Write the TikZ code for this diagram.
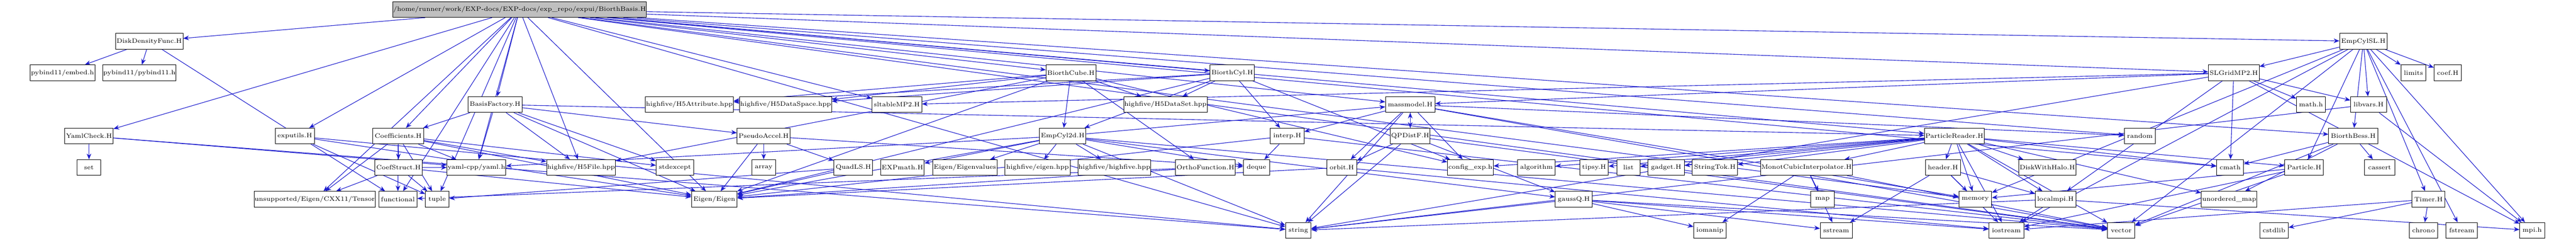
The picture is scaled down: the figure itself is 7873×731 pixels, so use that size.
\documentclass[tikz,border=0pt]{standalone}
\usepackage{tikz}
\usetikzlibrary{arrows.meta,backgrounds}
\definecolor{edgeblue}{RGB}{28,28,205}
\begin{document}
\begin{tikzpicture}[x=0.01cm,y=-0.01cm,-{Stealth[length=5pt,width=4pt]},
                    every edge/.style={draw=edgeblue,line width=0.5pt}]
  \tikzstyle{file}=[rectangle,draw=black,-,fill=white,minimum height=0.48cm,inner sep=0.5pt,
                    font=\fontsize{5.5}{6}\selectfont]
  \tikzstyle{root file}=[file,fill=black!25]
  \useasboundingbox (0,0) rectangle (7873,731);

  % top of the graph
  \node[root file,minimum width=6.82cm] (root)      at (1588,29)  {/home/runner/work/EXP-docs/EXP-docs/exp\_repo/expui/BiorthBasis.H};
  \node[file,minimum width=2.06cm] (ddf)            at (456,126)  {DiskDensityFunc.H};
  \node[file,minimum width=1.45cm] (empcylsl)       at (7223,126) {EmpCylSL.H};

  \node[file,minimum width=1.99cm] (embed)          at (191,222)  {pybind11/embed.h};
  \node[file,minimum width=2.24cm] (pyb)            at (426,222)  {pybind11/pybind11.h};
  \node[file,minimum width=1.52cm] (biorthcube)     at (3273,222) {BiorthCube.H};
  \node[file,minimum width=1.35cm] (biorthcyl)      at (3766,222) {BiorthCyl.H};
  \node[file,minimum width=1.55cm] (slgrid)         at (6827,222) {SLGridMP2.H};
  \node[file,minimum width=0.76cm] (limits)         at (7376,222) {limits};
  \node[file,minimum width=0.84cm] (coefh)          at (7481,222) {coef.H};

  \node[file,minimum width=1.65cm] (basisfactory)   at (1513,319) {BasisFactory.H};
  \node[file,minimum width=2.61cm] (h5attr)         at (2107,319) {highfive/H5Attribute.hpp};
  \node[file,minimum width=2.76cm] (h5space)        at (2401,319) {highfive/H5DataSpace.hpp};
  \node[file,minimum width=1.52cm] (sltable)        at (2741,319) {sltableMP2.H};
  \node[file,minimum width=2.51cm] (h5set)          at (3562,319) {highfive/H5DataSet.hpp};
  \node[file,minimum width=1.51cm] (massmodel)      at (4310,319) {massmodel.H};
  \node[file,minimum width=0.89cm] (mathh)          at (7063,319) {math.h};
  \node[file,minimum width=1.10cm] (libvars)        at (7239,319) {libvars.H};

  \node[file,minimum width=1.48cm] (yamlcheck)      at (272,415)  {YamlCheck.H};
  \node[file,minimum width=1.20cm] (exputils)       at (901,415)  {exputils.H};
  \node[file,minimum width=1.56cm] (coeffs)         at (1217,415) {Coefficients.H};
  \node[file,minimum width=1.62cm] (pseudo)         at (2334,415) {PseudoAccel.H};
  \node[file,minimum width=1.42cm] (empcyl2d)       at (3248,415) {EmpCyl2d.H};
  \node[file,minimum width=1.03cm] (interp)         at (3934,415) {interp.H};
  \node[file,minimum width=1.21cm] (qpdistf)        at (4310,415) {QPDistF.H};
  \node[file,minimum width=1.82cm] (preader)        at (5973,415) {ParticleReader.H};
  \node[file,minimum width=0.94cm] (random)         at (6540,415) {random};
  \node[file,minimum width=1.50cm] (bess)           at (7192,415) {BiorthBess.H};

  \node[file,minimum width=0.72cm] (set)            at (272,511)  {set};
  \node[file,minimum width=1.46cm] (coefstruct)     at (1218,511) {CoefStruct.H};
  \node[file,minimum width=1.80cm] (yaml)           at (1456,511) {yaml-cpp/yaml.h};
  \node[file,minimum width=2.10cm] (h5file)         at (1776,511) {highfive/H5File.hpp};
  \node[file,minimum width=1.15cm] (stdexcept)      at (2063,511) {stdexcept};
  \node[file,minimum width=0.73cm] (array)          at (2334,511) {array};
  \node[file,minimum width=1.18cm] (quadls)         at (2608,511) {QuadLS.H};
  \node[file,minimum width=1.33cm] (expmath)        at (2758,511) {EXPmath.H};
  \node[file,minimum width=1.98cm] (eigenvalues)    at (2949,511) {Eigen/Eigenvalues};
  \node[file,minimum width=1.99cm] (eigenhpp)       at (3171,511) {highfive/eigen.hpp};
  \node[file,minimum width=2.22cm] (highfive)       at (3406,511) {highfive/highfive.hpp};
  \node[file,minimum width=1.82cm] (ortho)          at (3684,511) {OrthoFunction.H};
  \node[file,minimum width=0.80cm] (deque)          at (3840,511) {deque};
  \node[file,minimum width=0.90cm] (orbit)          at (4101,511) {orbit.H};
  \node[file,minimum width=1.40cm] (config)         at (4494,511) {config\_exp.h};
  \node[file,minimum width=1.15cm] (algorithm)      at (4696,511) {algorithm};
  \node[file,minimum width=0.87cm] (tipsy)          at (4872,511) {tipsy.H};
  \node[file,minimum width=0.72cm] (list)           at (4977,511) {list};
  \node[file,minimum width=1.11cm] (gadget)         at (5092,511) {gadget.H};
  \node[file,minimum width=1.38cm] (stringtok)      at (5241,511) {StringTok.H};
  \node[file,minimum width=2.72cm] (monot)          at (5521,511) {MonotCubicInterpolator.H};
  \node[file,minimum width=1.07cm] (header)         at (5938,511) {header.H};
  \node[file,minimum width=1.74cm] (diskhalo)       at (6257,511) {DiskWithHalo.H};
  \node[file,minimum width=0.82cm] (cmath)          at (6816,511) {cmath};
  \node[file,minimum width=1.18cm] (particle)       at (7042,511) {Particle.H};
  \node[file,minimum width=0.92cm] (cassert)        at (7273,511) {cassert};

  \node[file,minimum width=3.44cm] (tensor)         at (962,608)  {unsupported/Eigen/CXX11/Tensor};
  \node[file,minimum width=1.17cm] (functional)     at (1216,608) {functional};
  \node[file,minimum width=0.72cm] (tuple)          at (1336,608) {tuple};
  \node[file,minimum width=1.39cm] (eigen)          at (2183,608) {Eigen/Eigen};
  \node[file,minimum width=1.13cm] (gaussq)         at (4810,608) {gaussQ.H};
  \node[file,minimum width=0.73cm] (map)            at (5570,608) {map};
  \node[file,minimum width=1.00cm] (memory)         at (6037,608) {memory};
  \node[file,minimum width=1.24cm] (localmpi)       at (6282,608) {localmpi.H};
  \node[file,minimum width=1.70cm] (umap)           at (6813,608) {unordered\_map};
  \node[file,minimum width=1.00cm] (timer)          at (7422,608) {Timer.H};

  \node[file,minimum width=0.78cm] (string)         at (3968,703) {string};
  \node[file,minimum width=0.99cm] (iomanip)        at (5226,703) {iomanip};
  \node[file,minimum width=0.98cm] (sstream)        at (5612,703) {sstream};
  \node[file,minimum width=1.06cm] (iostream)       at (6132,703) {iostream};
  \node[file,minimum width=0.83cm] (vector)         at (6483,703) {vector};
  \node[file,minimum width=0.87cm] (cstdlib)        at (6950,703) {cstdlib};
  \node[file,minimum width=0.87cm] (chrono)         at (7407,703) {chrono};
  \node[file,minimum width=0.96cm] (fstream)        at (7524,703) {fstream};
  \node[file,minimum width=0.76cm] (mpih)           at (7739,703) {mpi.h};

  % includes
  \begin{scope}[on background layer]
  \path (root) edge (ddf) edge (yamlcheck) edge (tensor) edge (exputils)
            edge (coeffs) edge (basisfactory) edge (yaml) edge (eigen)
            edge (biorthcube) edge (biorthcyl) edge (slgrid) edge (empcylsl)
            edge (sltable) edge (h5file) edge (string) edge (vector)
            edge (memory) edge (functional) edge (tuple) edge (massmodel)
            edge (preader) edge (bess) edge (cmath) edge (random)
        (ddf) edge (embed) edge (pyb) edge (functional)
        (yamlcheck) edge (set) edge (yaml) edge (string)
        (exputils) edge (eigen) edge (tuple) edge (string)
        (coeffs) edge (coefstruct) edge (yaml) edge (tensor) edge (tuple)
            edge (h5file) edge (stdexcept) edge (eigen) edge (functional)
        (coefstruct) edge (tensor) edge (tuple) edge (eigen) edge (yaml)
        (basisfactory) edge (yaml) edge (eigen) edge (pseudo) edge (h5file)
            edge (stdexcept) edge (preader) edge (coeffs)
        (pseudo) edge (array) edge (eigen) edge (quadls) edge (deque)
        (quadls) edge (eigen) edge (tuple)
        (biorthcube) edge (empcyl2d) edge (h5set) edge (ortho) edge (h5file)
            edge (h5attr) edge (h5space) edge (eigen) edge (config)
        (biorthcyl) edge (h5set) edge (empcyl2d) edge (eigen) edge (interp)
            edge (h5attr) edge (h5space) edge (config)
        (empcyl2d) edge (expmath) edge (eigenvalues) edge (eigenhpp)
            edge (highfive) edge (deque) edge (yaml) edge (eigen)
            edge (massmodel) edge (gaussq) edge (string) edge (vector)
        (interp) edge (deque) edge (eigen) edge (vector)
        (ortho) edge (eigen) edge (functional)
        (massmodel) edge (qpdistf) edge (config) edge (orbit) edge (interp)
            edge (string) edge (vector) edge (memory) edge (random)
        (qpdistf) edge (massmodel) edge (orbit) edge (gaussq) edge (string)
            edge (vector)
        (orbit) edge (eigen) edge (iostream)
        (preader) edge (header) edge (memory) edge (iostream) edge (diskhalo)
            edge (localmpi) edge (vector) edge (cmath) edge (config)
            edge (algorithm) edge (tipsy) edge (list) edge (gadget)
            edge (stringtok) edge (umap) edge (particle) edge (monot)
        (header) edge (memory) edge (localmpi) edge (iostream) edge (sstream)
        (localmpi) edge (mpih) edge (iostream) edge (string)
        (monot) edge (map) edge (iomanip) edge (sstream) edge (vector)
        (gaussq) edge (iomanip) edge (sstream) edge (string) edge (vector)
            edge (iostream)
        (slgrid) edge (mathh) edge (libvars) edge (cmath) edge (mpih)
            edge (sltable) edge (massmodel) edge (localmpi) edge (string)
        (empcylsl) edge (slgrid) edge (limits) edge (coefh) edge (libvars)
            edge (bess) edge (timer) edge (mpih) edge (fstream) edge (particle)
            edge (vector) edge (memory) edge (iostream)
        (bess) edge (cassert) edge (cmath) edge (umap) edge (vector)
        (particle) edge (vector) edge (memory) edge (iostream)
        (libvars) edge (mpih) edge (string)
        (timer) edge (chrono) edge (cstdlib) edge (iostream);
  \end{scope}
\end{tikzpicture}
\end{document}
